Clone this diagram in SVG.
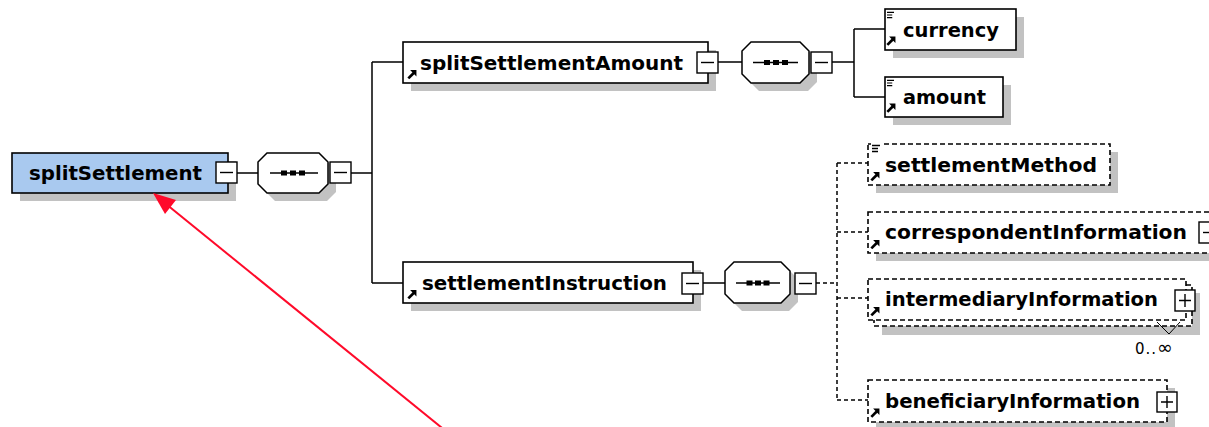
<svg xmlns="http://www.w3.org/2000/svg" xmlns:xlink="http://www.w3.org/1999/xlink" width="1209" height="427" viewBox="0 0 1209 427">
<style>
.box{fill:#fff;stroke:#000;stroke-width:1.6}
.dbox{fill:#fff;stroke:#000;stroke-width:1.6;stroke-dasharray:5 3}
.root{fill:#a9c9ef;stroke:#000;stroke-width:1.6}
.sh{fill:#c2c2c2}
.lbl{font-family:"DejaVu Sans",Verdana,sans-serif;font-weight:bold;font-size:19.5px;fill:#000}
.occ{font-family:"DejaVu Sans",sans-serif;font-size:15px;fill:#000}
.con{fill:none;stroke:#000;stroke-width:1.5}
.dcon{fill:none;stroke:#000;stroke-width:1.5;stroke-dasharray:4 3}
.btn{fill:#fff;stroke:#000;stroke-width:1.4}
.sgn{stroke:#000;stroke-width:1.4}
.oct{fill:#fff;stroke:#000;stroke-width:1.5}
</style>
<defs>
<symbol id="ref" viewBox="0 0 9 9"><path d="M1.2,8 L6.5,2.7" stroke="#000" stroke-width="2.4"/><polygon points="2.8,0.5 8.5,0.5 8.5,6.2" fill="#000"/></symbol>
<symbol id="simple" viewBox="0 0 8 8"><path d="M0,1 H8 M0,4 H6 M0,7 H6" stroke="#000" stroke-width="1.3"/></symbol>
</defs>
<rect width="1209" height="427" fill="#fff"/>

<g id="connectors">
<path class="con" d="M237,173 H258 M351,173 H372 M372,62 V283 M372,62 H403 M372,283 H403 M718,62 H742 M832,62 H854 M854,29 V97 M854,29 H885 M854,97 H885 M703,283 H725"/>
<path class="dcon" d="M816,283 H837 M837,163 V400 M837,163 H868 M837,232 H868 M837,298 H868 M837,400 H868"/>
</g>

<g id="splitSettlement">
<rect class="sh" x="20" y="161" width="216" height="40"/>
<rect class="root" x="12" y="153" width="216" height="40"/>
<text class="lbl" x="29" y="180" textLength="173" lengthAdjust="spacingAndGlyphs">splitSettlement</text>
<rect class="btn" x="216" y="162" width="21" height="21"/>
<path class="sgn" d="M220,172.5 H233"/>
</g>

<g id="seq1">
<path class="sh" d="M275,161 H327 L336,170 V192 L327,201 H275 L266,192 V170 Z"/>
<path class="oct" d="M267,153 H319 L328,162 V184 L319,193 H267 L258,184 V162 Z"/>
<path class="sgn" d="M270,173 H318"/>
<rect x="281" y="170.5" width="6" height="5"/><rect x="290" y="170.5" width="6" height="5"/><rect x="299" y="170.5" width="6" height="5"/>
<rect class="btn" x="330" y="162" width="21" height="21"/>
<path class="sgn" d="M334,172.5 H347"/>
</g>

<g id="splitSettlementAmount">
<rect class="sh" x="411" y="50" width="305" height="41"/>
<rect class="box" x="403" y="42" width="305" height="41"/>
<use xlink:href="#ref" x="407" y="69.5" width="10" height="10"/>
<text class="lbl" x="420" y="69.5" textLength="263" lengthAdjust="spacingAndGlyphs">splitSettlementAmount</text>
<rect class="btn" x="697" y="52" width="21" height="21"/>
<path class="sgn" d="M701,62.5 H714"/>
</g>

<g id="seq2">
<path class="sh" d="M759,50 H808 L817,59 V82 L808,91 H759 L750,82 V59 Z"/>
<path class="oct" d="M751,42 H800 L809,51 V74 L800,83 H751 L742,74 V51 Z"/>
<path class="sgn" d="M753,62.5 H798"/>
<rect x="764" y="60" width="6" height="5"/><rect x="773" y="60" width="6" height="5"/><rect x="782" y="60" width="6" height="5"/>
<rect class="btn" x="811" y="52" width="21" height="21"/>
<path class="sgn" d="M815,62.5 H828"/>
</g>

<g id="currency">
<rect class="sh" x="893" y="17" width="131" height="41"/>
<rect class="box" x="885" y="9" width="131" height="41"/>
<use xlink:href="#simple" x="887" y="11" width="7" height="8"/>
<use xlink:href="#ref" x="886" y="36" width="10" height="10"/>
<text class="lbl" x="903" y="37" textLength="96" lengthAdjust="spacingAndGlyphs">currency</text>
</g>

<g id="amount">
<rect class="sh" x="893" y="85" width="118" height="40"/>
<rect class="box" x="885" y="77" width="118" height="40"/>
<use xlink:href="#simple" x="887" y="79" width="7" height="8"/>
<use xlink:href="#ref" x="886" y="103" width="10" height="10"/>
<text class="lbl" x="903" y="104" textLength="83" lengthAdjust="spacingAndGlyphs">amount</text>
</g>

<g id="settlementInstruction">
<rect class="sh" x="411" y="270" width="290" height="41"/>
<rect class="box" x="403" y="262" width="290" height="41"/>
<use xlink:href="#ref" x="407" y="289.5" width="10" height="10"/>
<text class="lbl" x="422" y="289.5" textLength="245" lengthAdjust="spacingAndGlyphs">settlementInstruction</text>
<rect class="btn" x="682" y="273" width="21" height="21"/>
<path class="sgn" d="M686,283.5 H699"/>
</g>

<g id="seq3">
<path class="sh" d="M742,270 H789 L798,279 V302 L789,311 H742 L733,302 V279 Z"/>
<path class="oct" d="M734,262 H781 L790,271 V294 L781,303 H734 L725,294 V271 Z"/>
<path class="sgn" d="M736,283 H780"/>
<rect x="746.5" y="280.5" width="6" height="5"/><rect x="755" y="280.5" width="6" height="5"/><rect x="763.5" y="280.5" width="6" height="5"/>
<rect class="btn" x="795" y="273" width="21" height="21"/>
<path class="sgn" d="M799,283.5 H812"/>
</g>

<g id="settlementMethod">
<rect class="sh" x="876" y="152" width="242" height="41"/>
<rect class="dbox" x="868" y="144" width="242" height="41"/>
<rect x="871" y="142" width="10" height="12" fill="#fff"/>
<use xlink:href="#simple" x="872" y="144" width="8" height="9"/>
<use xlink:href="#ref" x="870" y="171.5" width="10" height="10"/>
<text class="lbl" x="885" y="171.5" textLength="212" lengthAdjust="spacingAndGlyphs">settlementMethod</text>
</g>

<g id="correspondentInformation">
<rect class="sh" x="876" y="220" width="345" height="41"/>
<rect class="dbox" x="868" y="212" width="345" height="41"/>
<use xlink:href="#ref" x="870" y="239.5" width="10" height="10"/>
<text class="lbl" x="885" y="239" textLength="302" lengthAdjust="spacingAndGlyphs">correspondentInformation</text>
<rect class="btn" x="1199" y="222" width="21" height="21"/>
<path class="sgn" d="M1203,232.5 H1216"/>
</g>

<g id="intermediaryInformation">
<rect class="sh" x="882" y="293" width="318" height="42"/>
<rect class="dbox" x="874" y="285" width="318" height="41"/>
<rect class="dbox" x="868" y="279" width="318" height="41"/>
<use xlink:href="#ref" x="870" y="306.5" width="10" height="10"/>
<text class="lbl" x="885" y="306" textLength="273" lengthAdjust="spacingAndGlyphs">intermediaryInformation</text>
<rect class="btn" x="1175" y="290" width="20" height="21"/>
<path class="sgn" d="M1179,300.5 H1191 M1185,294 V307"/>
<path d="M1157,322 L1169,334 L1180,322" fill="none" stroke="#000" stroke-width="1"/>
<text class="occ" x="1135" y="354" letter-spacing="1">0..<tspan font-size="19">∞</tspan></text>
</g>

<g id="beneficiaryInformation">
<rect class="sh" x="876" y="388" width="299" height="42"/>
<rect class="dbox" x="868" y="380" width="299" height="42"/>
<use xlink:href="#ref" x="870" y="408" width="10" height="10"/>
<text class="lbl" x="885" y="408" textLength="255" lengthAdjust="spacingAndGlyphs">beneficiaryInformation</text>
<rect class="btn" x="1157" y="392" width="20" height="20"/>
<path class="sgn" d="M1161,402 H1173 M1167,396 V408"/>
</g>

<g id="pointer">
<line x1="447" y1="432" x2="166" y2="204" stroke="#ff0a2a" stroke-width="2"/>
<polygon points="153,193 176,200 165,214" fill="#ff0a2a"/>
</g>
</svg>
